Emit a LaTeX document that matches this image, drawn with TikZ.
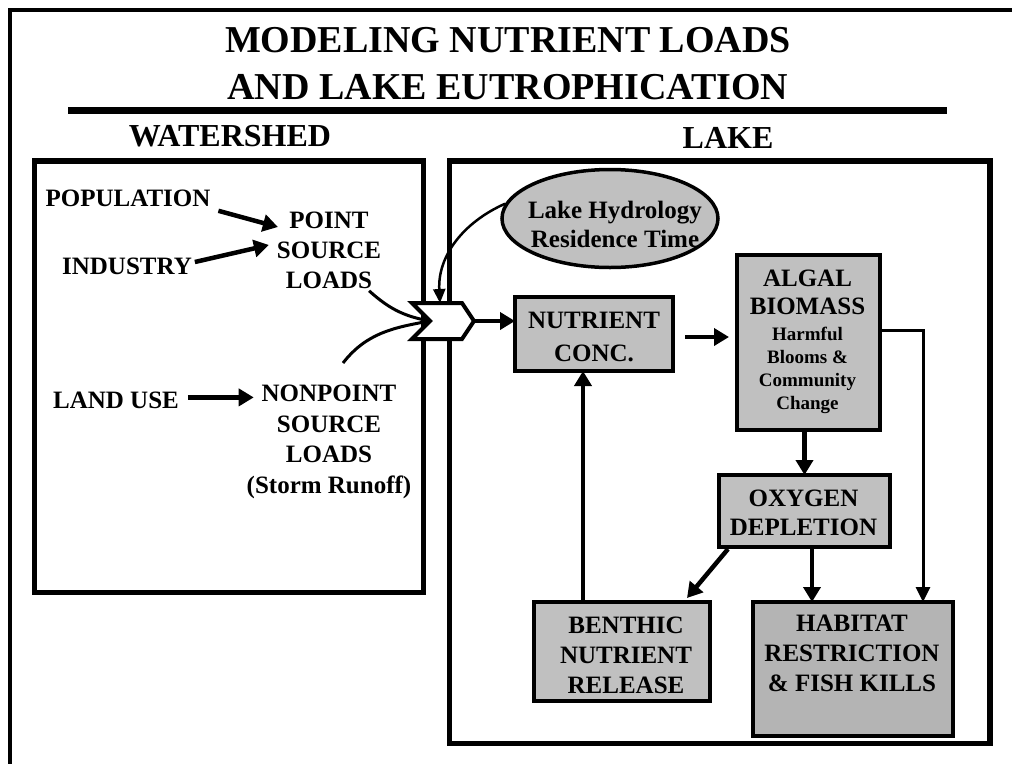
\documentclass[tikz,border=0pt]{standalone}
\usepackage{fontspec}
\setmainfont{Liberation Serif}
\usetikzlibrary{arrows.meta,calc,shapes.geometric}
\definecolor{boxgray}{HTML}{C0C0C0}
\definecolor{habgray}{HTML}{B4B4B4}
\begin{document}
\begin{tikzpicture}[x=1pt,y=-1pt,
  txt/.style={inner sep=0pt, outer sep=0pt, align=center, anchor=north, font=\bfseries\fontsize{25}{30}\selectfont},
  titletxt/.style={txt, font=\bfseries\fontsize{38}{47}\selectfont},
  headtxt/.style={txt, font=\bfseries\fontsize{32}{38}\selectfont},
  smalltxt/.style={txt, font=\bfseries\fontsize{19}{23.3}\selectfont},
  region/.style={draw, line width=5.5pt, inner sep=0pt, outer sep=0pt},
  gbox/.style={draw, line width=4pt, fill=boxgray, inner sep=0pt, outer sep=0pt},
  thickarrow/.style={line width=4.5pt, -{Triangle[length=15pt,width=17pt]}},
  thinarrow/.style={line width=3pt, -{Triangle[length=15pt,width=14pt]}},
  thinline/.style={line width=3pt}]
\useasboundingbox (0,0) rectangle (1012,764);
\fill[white] (0,0) rectangle (1012,764);
% outer frame
\draw[line width=4pt] (1012,10) -- (10,10) -- (10,764);
% title
\node[titletxt] (title) at (508,27) {MODELING NUTRIENT LOADS\\AND LAKE EUTROPHICATION};
\draw[line width=7pt] (68,110.5) -- (947,110.5);
\node[headtxt] (wshead) at (230,125) {WATERSHED};
\node[headtxt] (lkhead) at (728,127) {LAKE};
% regions
\node[region, minimum width=389pt, minimum height=431.5pt] (ws) at (229,376.75) {};
\node[region, minimum width=540.5pt, minimum height=582.5pt] (lake) at (719.75,452.25) {};
% watershed texts
\node[txt] (pop) at (128,190) {POPULATION};
\node[txt] (ind) at (127,258) {INDUSTRY};
\node[txt] (psl) at (329,212) {POINT\\SOURCE\\LOADS};
\node[txt] (lu) at (116,392) {LAND USE};
\node[txt, font=\bfseries\fontsize{25}{30.5}\selectfont] (nps) at (329,385) {NONPOINT\\SOURCE\\LOADS\\(Storm Runoff)};
% chevron
\coordinate (chevin) at (430,321);
\coordinate (chevout) at (474,321);
\coordinate (chevtop) at (440,303);
\draw[line width=4pt, fill=white, line join=miter] (412,303) -- (462,303) -- (chevout) -- (462,339) -- (412,339) -- (chevin) -- cycle;
% lake elements
\node[ellipse, draw, line width=3.5pt, fill=boxgray, minimum width=216pt, minimum height=98pt, inner sep=0pt] (ell) at (610,218.5) {};
\node[txt, font=\bfseries\fontsize{25}{29}\selectfont] (ellt) at (615,201) {Lake Hydrology\\Residence Time};
\node[gbox, minimum width=158pt, minimum height=74pt] (nut) at (594,334) {};
\node[txt, font=\bfseries\fontsize{25}{33.5}\selectfont] (nutt) at (594,312) {NUTRIENT\\CONC.};
\node[gbox, minimum width=143pt, minimum height=175pt] (alg) at (808.5,342.5) {};
\node[txt, font=\bfseries\fontsize{25}{28.5}\selectfont] (algt) at (807.5,269.5) {ALGAL\\BIOMASS};
\node[smalltxt] (algs) at (807.5,326.7) {Harmful\\Blooms \&\\Community\\Change};
\node[gbox, minimum width=171pt, minimum height=72pt] (oxy) at (804.5,511) {};
\node[txt, font=\bfseries\fontsize{25}{29}\selectfont] (oxyt) at (803.5,490) {OXYGEN\\DEPLETION};
\node[gbox, minimum width=176pt, minimum height=99pt] (ben) at (622,651.5) {};
\node[txt] (bent) at (626,616.7) {BENTHIC\\NUTRIENT\\RELEASE};
\node[gbox, fill=habgray, minimum width=200pt, minimum height=134pt] (hab) at (853,669) {};
\node[txt] (habt) at (852,615) {HABITAT\\RESTRICTION\\\& FISH KILLS};
% watershed connectors
\draw[thickarrow] ($(pop.south east)+(8,4)$) -- ($(psl.north west)+(1,15)$);
\draw[thickarrow] ($(ind.north east)+(3,4)$) -- ($(psl.north west)+(-8,33)$);
\draw[thickarrow] ($(lu.east)+(9,-3)$) -- ($(lu.east -| nps.west)+(7,-3)$);
\draw[thinline] ($(psl.south east)+(-12,2)$) to[out=-42,in=170] (chevin);
\draw[thinline] ($(nps.north)+(14,-22)$) to[out=52,in=190] (chevin);
% lake connectors
\draw[line width=2.5pt, -{Triangle[length=14pt,width=12pt]}] (ell.172) to[out=204,in=93] (chevtop);
\draw[thickarrow] (chevout) -- (chevout -| nut.west);
\draw[thickarrow] ($(nut.east)+(12,3)$) -- ($(nut.east -| alg.west)+(-8,3)$);
\draw[thickarrow] (oxy.north |- alg.south) -- (oxy.north);
\draw[thickarrow] ($(oxy.south west)+(9,2)$) -- ($(ben.north)+(65,-4)$);
\coordinate (oh) at ($(oxy.south west)+(93,0)$);
\draw[thickarrow] (oh) -- (oh |- hab.north);
\coordinate (ah) at ($(hab.north east)+(-30,0)$);
\draw[thinarrow] ([yshift=12.5pt]alg.east) -| (ah);
\coordinate (bn) at ($(ben.north west)+(49,0)$);
\draw[thickarrow] (bn) -- (bn |- nut.south);
\end{tikzpicture}
\end{document}
